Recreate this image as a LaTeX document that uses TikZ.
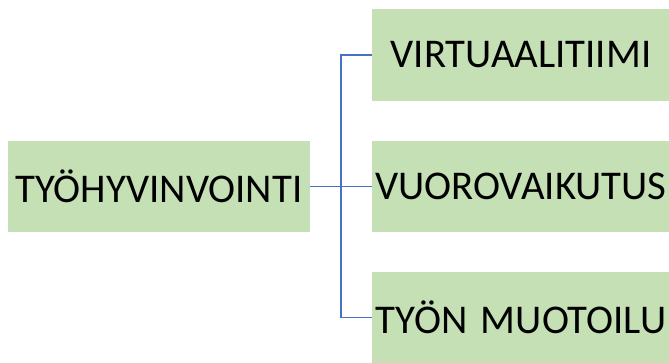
\documentclass[tikz,border=0pt]{standalone}
\usepackage{fontspec}
\setmainfont{Carlito}
\definecolor{boxgreen}{HTML}{C5E0B4}
\definecolor{linkblue}{HTML}{4472C4}
\begin{document}
\begin{tikzpicture}[x=1pt,y=-1pt,
  gbox/.style={fill=boxgreen,draw=none,inner xsep=2pt,inner ysep=0pt,
    minimum height=91.5pt,align=center,
    font=\fontsize{40.8}{48}\selectfont},
  link/.style={draw=linkblue,line width=1.3pt}]
\useasboundingbox (0,0) rectangle (669,362);
\clip (0,0) rectangle (669,362);
\node[gbox,text width=298pt] (L) at (159,186.5) {TYÖHYVINVOINTI};
\node[gbox,text width=294pt] (A) at (521,55) {VIRTUAALITIIMI};
\node[gbox,text width=294pt] (B) at (521,186.5) {VUOROVAIKUTUS};
\node[gbox,text width=294pt] (C) at (521,317.5) {TYÖN MUOTOILU};
\coordinate (j) at (341,186.5);
\draw[link] (L.east) -- (B.west);
\draw[link] (j) |- (A.west);
\draw[link] (j) |- (C.west);
\end{tikzpicture}
\end{document}
